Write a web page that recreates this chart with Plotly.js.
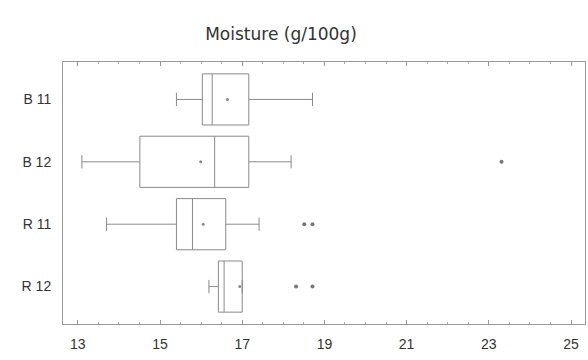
<!DOCTYPE html>
<html>
<head>
<meta charset="utf-8">
<script src="https://cdn.plot.ly/plotly-3.0.1.min.js"></script>
<style>html,body{margin:0;padding:0;background:#fff;}#chart{width:588px;height:360px;}</style>
</head>
<body>
<div id="chart"></div>
<script>
const categories = ['B 11', 'B 12', 'R 11', 'R 12'];
const lowerWhisker = [15.40, 13.10, 13.70, 16.19];
const q1Values = [16.03, 14.51, 15.40, 16.42];
const medianValues = [16.27, 16.33, 15.79, 16.56];
const q3Values = [17.16, 17.16, 16.60, 17.00];
const upperWhisker = [18.71, 18.19, 17.41, 17.00];
const meanValues = [16.64, 15.99, 16.05, 16.94];
const outlierCats = ['B 12', 'R 11', 'R 11', 'R 12', 'R 12'];
const outlierValues = [23.31, 18.51, 18.71, 18.31, 18.71];
const xTicks = [13, 15, 17, 19, 21, 23, 25];

const traces = [
  {
    type: 'box', orientation: 'h',
    y: categories,
    q1: q1Values, median: medianValues, q3: q3Values,
    lowerfence: lowerWhisker, upperfence: upperWhisker,
    boxpoints: false,
    width: 0.82,
    whiskerwidth: 0.26,
    fillcolor: 'rgba(255,255,255,0)',
    line: {color: '#8a8a8a', width: 1},
    hoverinfo: 'skip', showlegend: false
  },
  {
    type: 'scatter', mode: 'markers',
    x: meanValues, y: categories,
    marker: {size: 3, color: '#8a8a8a'},
    hoverinfo: 'skip', showlegend: false
  },
  {
    type: 'scatter', mode: 'markers',
    x: outlierValues, y: outlierCats,
    marker: {size: 4, color: '#777'},
    hoverinfo: 'skip', showlegend: false
  }
];

const layout = {
  width: 588, height: 360,
  margin: {l: 63, r: 3, t: 62, b: 36},
  paper_bgcolor: '#fff', plot_bgcolor: '#fff',
  title: {
    text: 'Moisture (g/100g)',
    font: {family: 'DejaVu Sans', size: 17, color: '#333'},
    x: 281/588, xanchor: 'center', y: 1 - 34/360, yanchor: 'middle', yref: 'container'
  },
  xaxis: {
    range: [12.64, 25.34],
    tickvals: xTicks,
    ticktext: xTicks.map(String),
    ticks: 'inside', ticklen: 4, tickcolor: '#999',
    minor: {tickvals: Array.from({length: 25}, (_, i) => 13 + i * 0.5), ticks: 'inside', ticklen: 2, tickcolor: '#aaa'},
    showline: true, linecolor: '#999', linewidth: 1, mirror: 'ticks',
    showgrid: false, zeroline: false,
    ticklabelstandoff: 7,
    tickfont: {family: 'Liberation Sans', size: 14, color: '#333'}
  },
  yaxis: {
    type: 'category',
    categoryorder: 'array', categoryarray: categories,
    range: [3.6, -0.6],
    showline: true, linecolor: '#999', linewidth: 1, mirror: true,
    ticks: '', showgrid: false, zeroline: false,
    ticklabelstandoff: 8,
    tickfont: {family: 'Liberation Sans', size: 14, color: '#333'}
  }
};

Plotly.newPlot('chart', traces, layout, {staticPlot: true, displayModeBar: false});
</script>
</body>
</html>
